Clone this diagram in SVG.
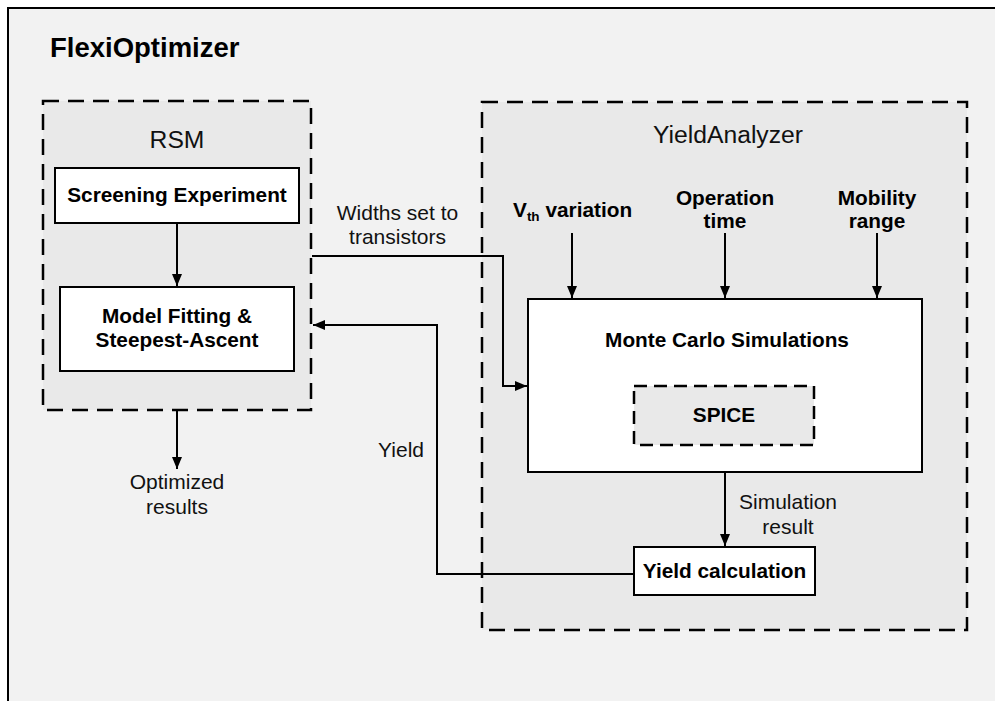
<svg xmlns="http://www.w3.org/2000/svg" width="995" height="701" viewBox="0 0 995 701">
<defs>
<style>
.node{fill:#ffffff;stroke:#000;stroke-width:2}
.group{fill:#e9e9e9;stroke:#000;stroke-width:2.5;stroke-dasharray:16 9}
.sub{fill:#e9e9e9;stroke:#000;stroke-width:2.5;stroke-dasharray:13 7}
.b{font-family:"Liberation Sans",Arial,sans-serif;font-weight:bold;font-size:20.8px;fill:#000}
.t{font-family:"Liberation Sans",Arial,sans-serif;font-size:21px;fill:#111}
.h{font-family:"Liberation Sans",Arial,sans-serif;font-size:24.7px;fill:#111}
.c{text-anchor:middle}
.edge{fill:none;stroke:#000;stroke-width:2}
</style>
<marker id="arr" viewBox="0 0 12 10" refX="12" refY="5" markerWidth="12" markerHeight="10" markerUnits="userSpaceOnUse" orient="auto">
<path d="M0,0 L12,5 L0,10 Z" fill="#000"/>
</marker>
</defs>
<rect x="0" y="0" width="995" height="701" fill="#ffffff"/>
<g id="frame">
<rect x="8" y="8" width="1000" height="700" fill="#f2f2f2"/>
<path d="M8,708 L8,8 L1000,8" fill="none" stroke="#000" stroke-width="2"/>
<text x="50" y="57" style="font-family:'Liberation Sans',Arial,sans-serif;font-weight:bold;font-size:27.5px;fill:#000">FlexiOptimizer</text>
</g>
<g id="rsm">
<rect class="group" x="43" y="101" width="268" height="309"/>
<text class="h c" x="177" y="148">RSM</text>
</g>
<g id="yieldanalyzer">
<rect class="group" x="482" y="102" width="485" height="528"/>
<text class="h c" x="728" y="143">YieldAnalyzer</text>
</g>
<g id="screening">
<rect class="node" x="55" y="168" width="244" height="55"/>
<text class="b c" x="177" y="202">Screening Experiment</text>
</g>
<g id="model">
<rect class="node" x="60" y="287" width="234" height="84"/>
<text class="b c" x="177" y="323">Model Fitting &amp;</text>
<text class="b c" x="177" y="347">Steepest-Ascent</text>
</g>
<g id="montecarlo">
<rect class="node" x="528" y="299" width="394" height="173"/>
<text class="b c" x="727" y="347">Monte Carlo Simulations</text>
</g>
<g id="spice">
<rect class="sub" x="634" y="386" width="180" height="59"/>
<text class="b c" x="724" y="422">SPICE</text>
</g>
<g id="yieldcalc">
<rect class="node" x="634" y="547" width="181" height="48"/>
<text class="b c" x="724.5" y="578">Yield calculation</text>
</g>
<g id="vth">
<text class="b" x="513" y="217">V<tspan font-size="13.5" dy="4">th</tspan><tspan dy="-4"> variation</tspan></text>
</g>
<g id="optime">
<text class="b c" x="725" y="205">Operation</text>
<text class="b c" x="725" y="228">time</text>
</g>
<g id="mobility">
<text class="b c" x="877" y="205">Mobility</text>
<text class="b c" x="877" y="228">range</text>
</g>
<g id="connectors">
<path class="edge" d="M177,223 L177,286" marker-end="url(#arr)"/>
<path class="edge" d="M572,233 L572,298" marker-end="url(#arr)"/>
<path class="edge" d="M725,233 L725,298" marker-end="url(#arr)"/>
<path class="edge" d="M877,233 L877,298" marker-end="url(#arr)"/>
<path class="edge" d="M312,256 L503,256 L503,386 L527,386" marker-end="url(#arr)"/>
<path class="edge" d="M725,472 L725,546" marker-end="url(#arr)"/>
<path class="edge" d="M634,574 L437,574 L437,325 L313,325" marker-end="url(#arr)"/>
<path class="edge" d="M177,410 L177,469" marker-end="url(#arr)"/>
<text class="t c" x="397.5" y="220">Widths set to</text>
<text class="t c" x="397.5" y="244">transistors</text>
<text class="t" x="424" y="457" text-anchor="end">Yield</text>
<text class="t c" x="788" y="509">Simulation</text>
<text class="t c" x="788" y="534">result</text>
<text class="t c" x="177" y="489">Optimized</text>
<text class="t c" x="177" y="514">results</text>
</g>
</svg>
